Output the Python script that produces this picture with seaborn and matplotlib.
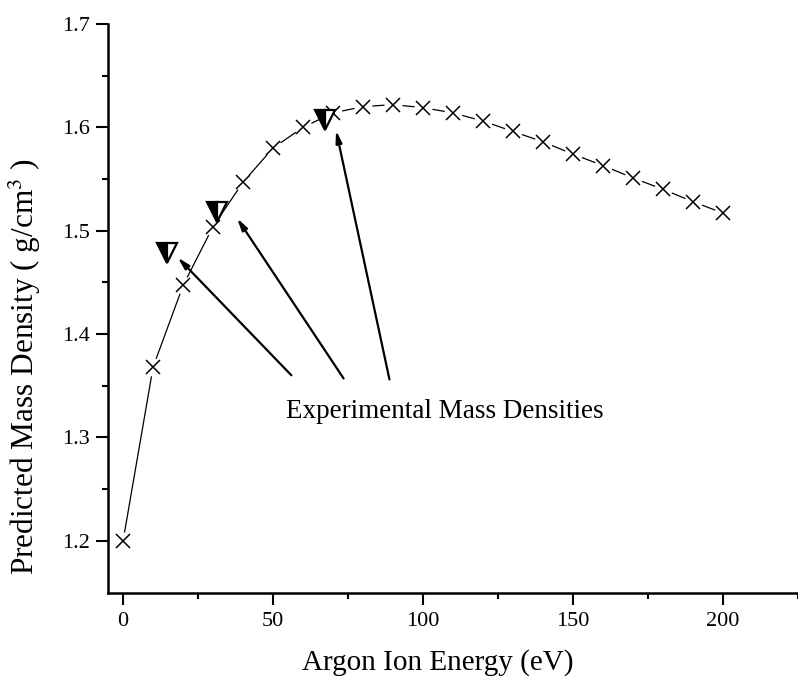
import numpy as np
import pandas as pd
import matplotlib
matplotlib.use("Agg")
import matplotlib.pyplot as plt
import seaborn as sns

# Predicted curve (crosses)
energy = [0, 10, 20, 30, 40, 50, 60, 70, 80, 90, 100,
          110, 120, 130, 140, 150, 160, 170, 180, 190, 200]
density = [1.200, 1.368, 1.447, 1.504, 1.547, 1.580, 1.600, 1.614, 1.620, 1.622, 1.619,
           1.614, 1.606, 1.596, 1.586, 1.574, 1.563, 1.551, 1.540, 1.528, 1.517]

# Experimental points (half-filled triangles)
exp_energy = [14.6, 31.4, 67.3]
exp_density = [1.478, 1.518, 1.607]

# Arrows: start near the caption, tip at each experimental point
arrow_start_x = [56.1, 73.5, 88.8]
arrow_start_y = [1.360, 1.357, 1.356]
arrow_tip_x = [18.2, 38.0, 71.0]
arrow_tip_y = [1.474, 1.512, 1.597]

sns.set_style("ticks")
plt.rcParams["font.family"] = ["Liberation Serif", "DejaVu Serif"]
plt.rcParams["mathtext.fontset"] = "stix"
for key in ["text.color", "axes.labelcolor", "xtick.color", "ytick.color", "axes.edgecolor"]:
    plt.rcParams[key] = "black"

df = pd.DataFrame({"Energy": energy, "Density": density})

fig = plt.figure(figsize=(7.98, 6.78), dpi=100)
ax = fig.add_axes([0.1357, 0.1249, 0.8643, 0.8397])

sns.lineplot(data=df, x="Energy", y="Density", color="black", linewidth=0.9, ax=ax)
# white halos to break the line near each marker
ax.plot(energy, density, linestyle="none", marker="o", markersize=12,
        markerfacecolor="white", markeredgecolor="white", zorder=3)
ax.plot(energy, density, linestyle="none", marker="x", markersize=10,
        markeredgewidth=1.1, color="black", zorder=4)

ax.plot(exp_energy, exp_density, linestyle="none", marker="v", markersize=15,
        fillstyle="left", markerfacecolor="black", markerfacecoloralt="white",
        markeredgecolor="black", markeredgewidth=1.6, zorder=5)

for sx, sy, tx, ty in zip(arrow_start_x, arrow_start_y, arrow_tip_x, arrow_tip_y):
    ax.annotate("", xy=(tx, ty), xytext=(sx, sy),
                arrowprops=dict(arrowstyle="-|>,head_length=0.7,head_width=0.18",
                                color="black", lw=1.6, shrinkA=0, shrinkB=0))

ax.text(54.4, 1.3186, "Experimental Mass Densities", fontsize=19.5,
        ha="left", va="baseline")

ax.set_xlim(-4.94, 222.4)
ax.set_ylim(1.149, 1.7)
ax.set_xticks([0, 50, 100, 150, 200])
ax.set_xticks([25, 75, 125, 175, 225], minor=True)
ax.set_yticks([1.2, 1.3, 1.4, 1.5, 1.6, 1.7])
ax.set_yticks([1.25, 1.35, 1.45, 1.55, 1.65], minor=True)
ax.set_yticklabels(["1.2", "1.3", "1.4", "1.5", "1.6", "1.7"])

ax.tick_params(which="major", length=8.5, width=1.5, labelsize=16, pad=5, direction="out")
ax.tick_params(which="minor", length=4.3, width=1.5, direction="out")

sns.despine(ax=ax)
ax.spines["left"].set_linewidth(1.8)
ax.spines["bottom"].set_linewidth(1.8)

ax.set_xlabel("Argon Ion Energy (eV)", fontsize=21)
ax.set_ylabel("Predicted Mass Density ( g/cm$^3$ )", fontsize=22.5)
ax.xaxis.set_label_coords(0.478, -0.098)
ax.yaxis.set_label_coords(-0.094, 0.399)

fig.savefig("out.png", dpi=100)
